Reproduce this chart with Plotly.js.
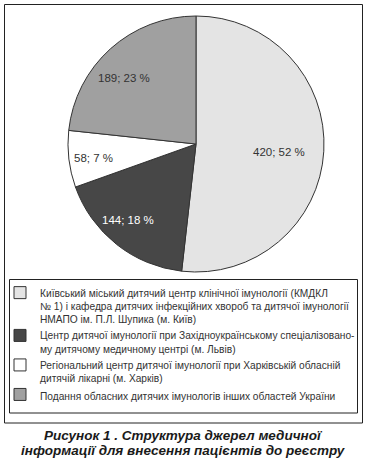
<!DOCTYPE html>
<html><head><meta charset="utf-8">
<script src="https://cdn.plot.ly/plotly-3.0.1.min.js"></script>
<style>html,body{margin:0;padding:0;background:#fff}#c{width:367px;height:464px}</style>
</head><body><div id="c"></div>
<script>
const categories = [
  "Київський міський дитячий центр клінічної імунології (КМДКЛ<br>№ 1) і кафедра дитячих інфекційних хвороб та дитячої імунології<br>НМАПО ім. П.Л. Шупика (м. Київ)",
  "Центр дитячої імунології при Західноукраїнському спеціалізовано-<br>му дитячому медичному центрі (м. Львів)",
  "Регіональний центр дитячої імунології при Харківській обласній<br>дитячій лікарні (м. Харків)",
  "Подання обласних дитячих імунологів інших областей України"
];
const values = [420, 144, 58, 189];
const percents = [52, 18, 7, 23];
const colors = ["#e4e4e4", "#474747", "#ffffff", "#a0a0a0"];
const textColors = ["#333333", "#ffffff", "#333333", "#333333"];
const captionLines = ["Рисунок 1 . Структура джерел медичної", "інформації для внесення пацієнтів до реєстру"];

const W = 367, H = 464;
const px = x => x / W, py = y => 1 - y / H;

// pie geometry (style)
const CX = 196, CY = 144, R = 128, LABEL_R = 0.73, LABEL_DX = -10, LABEL_DY = 3;

const labels = values.map((v, i) => v + "; " + percents[i] + " %");
const total = values.reduce((a, b) => a + b, 0);

const trace = {
  type: "pie",
  values: values,
  labels: categories,
  textinfo: "none",
  sort: false,
  direction: "clockwise",
  rotation: 0,
  marker: {colors: colors, line: {color: "#333333", width: 1}},
  domain: {x: [px(CX - R), px(CX + R)], y: [py(CY + R), py(CY - R)]},
  hoverinfo: "none"
};

// slice labels positioned at each slice's mid-angle (derived from values)
const labelAnns = [];
let cum = 0;
values.forEach((v, i) => {
  const mid = (cum + v / 2) / total * 2 * Math.PI;
  cum += v;
  const lx = CX + LABEL_R * R * Math.sin(mid) + LABEL_DX;
  const ly = CY - LABEL_R * R * Math.cos(mid) + LABEL_DY;
  labelAnns.push({xref: "paper", yref: "paper", x: px(lx), y: py(ly), text: labels[i], showarrow: false,
    xanchor: "center", yanchor: "middle",
    font: {family: "Liberation Sans, Arial", size: 11.5, color: textColors[i]}});
});

const capFont = {family: "Liberation Sans, Arial", size: 13.5, color: "#1a1a1a"};

const layout = {
  width: W, height: H,
  margin: {l: 0, r: 0, t: 0, b: 0},
  paper_bgcolor: "#ffffff",
  showlegend: true,
  legend: {
    x: 0, y: py(279.5), xanchor: "left", yanchor: "top",
    font: {family: "Liberation Sans, Arial", size: 10.2, color: "#333333"},
    valign: "top",
    bgcolor: "rgba(0,0,0,0)", borderwidth: 0,
    itemclick: false
  },
  shapes: [
    {type: "rect", xref: "paper", yref: "paper", x0: px(4.5), x1: px(362.5), y0: py(4.5), y1: py(423), line: {color: "#222", width: 1}},
    {type: "rect", xref: "paper", yref: "paper", x0: px(9.5), x1: px(357.5), y0: py(279.5), y1: py(413), line: {color: "#222", width: 1}}
  ],
  annotations: labelAnns.concat([
    {xref: "paper", yref: "paper", x: 0.5, y: py(435), text: "<b><i>" + captionLines[0] + "</i></b>", showarrow: false,
     font: capFont, xanchor: "center", yanchor: "middle"},
    {xref: "paper", yref: "paper", x: 0.5, y: py(450.5), text: "<b><i>" + captionLines[1] + "</i></b>", showarrow: false,
     font: capFont, xanchor: "center", yanchor: "middle"}
  ])
};

Plotly.newPlot("c", [trace], layout, {staticPlot: true, displayModeBar: false});
</script></body></html>
